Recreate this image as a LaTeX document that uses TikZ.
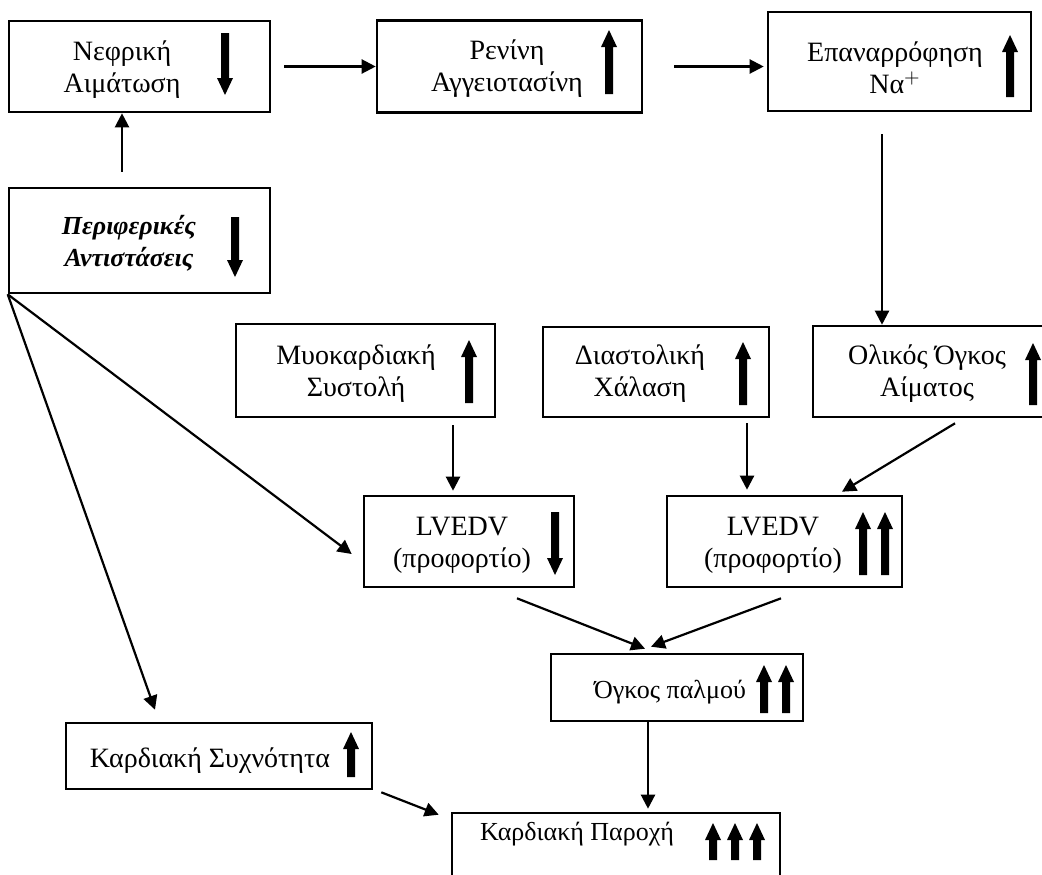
\documentclass[tikz,border=0pt]{standalone}
\usepackage{fontspec}
\setmainfont{Liberation Serif}
\usetikzlibrary{arrows.meta,calc}
\newcommand{\fatdown}[3]{\fill (#1-4,#2) -- (#1+4,#2) -- (#1+4,#3-17) -- (#1+8,#3-17) -- (#1,#3) -- (#1-8,#3-17) -- (#1-4,#3-17) -- cycle;}
\newcommand{\fatup}[3]{\fill (#1-4,#2) -- (#1+4,#2) -- (#1+4,#3+17) -- (#1+8,#3+17) -- (#1,#3) -- (#1-8,#3+17) -- (#1-4,#3+17) -- cycle;}
\begin{document}
\begin{tikzpicture}[x=0.5pt,y=-0.5pt,
  box/.style 2 args={draw, line width=1.3pt, inner sep=0pt, minimum width=#1*0.5pt, minimum height=#2*0.5pt},
  lbl/.style={align=center, inner sep=0pt, font=\fontsize{14}{16}\selectfont},
  conn/.style={line width=1.1pt, -{Triangle[length=7pt,width=7pt]}}]
\useasboundingbox (0,0) rectangle (1042,874);
% boxes
\node[box={261}{91}] (nef) at (139.5,66.5) {};
\node[box={265}{92}] (ren) at (509.5,66.5) {};
\node[box={263}{99}] (epa) at (899.5,61.5) {};
\node[box={261}{105}] (per) at (139.5,240.5) {};
\node[box={259}{93}] (myo) at (365.5,370.5) {};
\node[box={226}{90}] (dia) at (656,372) {};
\node[box={237}{91}] (oli) at (931.5,371.5) {};
\node[box={210}{91}] (lv1) at (469,541.5) {};
\node[box={235}{91}] (lv2) at (784.5,541.5) {};
\node[box={252}{67}] (ogk) at (677,687.5) {};
\node[box={306}{66}] (syx) at (219,756) {};
\node[box={328}{67}] (par) at (616,846.5) {};
% labels
\node[lbl] (tnef) at (122,70) {Νεφρική\\Αιμάτωση};
\node[lbl] (tren) at (507,69) {Ρενίνη\\Αγγειοτασίνη};
\node[lbl] (tepa) at (895,68) {Επαναρρόφηση\\Να$^{+}$};
\node[lbl, font=\fontsize{13}{16}\selectfont\bfseries\itshape] (tper) at (129,243) {Περιφερικές\\Αντιστάσεις};
\node[lbl] (tmyo) at (356,374) {Μυοκαρδιακή\\Συστολή};
\node[lbl] (tdia) at (640,374) {Διαστολική\\Χάλαση};
\node[lbl] (toli) at (927,374) {Ολικός Όγκος\\Αίματος};
\node[lbl] (tlv1) at (462,545) {LVEDV\\(προφορτίο)};
\node[lbl] (tlv2) at (773,545) {LVEDV\\(προφορτίο)};
\node[lbl, anchor=base, font=\fontsize{13}{15}\selectfont] (togk) at (670,698) {Όγκος παλμού};
\node[lbl, anchor=base] (tsyx) at (210,767) {Καρδιακή Συχνότητα};
\node[lbl, anchor=base, font=\fontsize{13}{15}\selectfont] (tpar) at (577,840) {Καρδιακή Παροχή};
% fat arrows
\fatdown{225}{33}{95}
\fatup{609}{94}{30}
\fatup{1010}{97}{35}
\fatdown{235}{217}{277}
\fatup{469}{403}{340}
\fatup{743}{405}{342}
\fatup{1033}{405}{343}
\fatdown{555}{512}{575}
\fatup{863}{575}{512}
\fatup{885}{575}{512}
\fatup{764}{713}{665}
\fatup{786}{713}{665}
\fatup{351}{777}{732}
\fatup{713}{860}{823}
\fatup{735}{860}{823}
\fatup{757}{860}{823}
% connectors
\draw[conn, shorten <=13pt*0.5] (nef.east) -- (ren.west);
\coordinate (b1) at ($(ren.east)+(31,0)$);
\draw[conn] (b1) -- ($(b1 -| epa.west)+(-3,0)$);
\coordinate (c1) at ($(epa.south)+(-17.5,22)$);
\draw[conn] (c1) -- (c1 |- oli.north);
\coordinate (d1) at ($(per.north)+(-17.5,-15)$);
\draw[conn] (d1) -- (d1 |- nef.south);
\draw[conn] (per.south west) -- ($(lv1.west)+(-11,12.5)$);
\draw[conn] (per.south west) -- ($(syx.north)+(-64,-12)$);
\coordinate (g2) at ($(lv1.north)+(-16,-4)$);
\draw[conn] ($(g2 |- myo.south)+(0,7)$) -- (g2);
\coordinate (h2) at ($(lv2.north)+(-37.5,-5)$);
\draw[conn] ($(h2 |- dia.south)+(0,5)$) -- (h2);
\draw[conn] ($(oli.south)+(23.5,5)$) -- ($(lv2.north)+(57.5,-3)$);
\draw[conn] ($(lv1.south)+(48,10)$) -- ($(ogk.north)+(-32,-4)$);
\draw[conn] ($(lv2.south)+(-3.5,10)$) -- ($(ogk.north)+(-26,-6)$);
\coordinate (l1) at ($(ogk.south)+(-29,0)$);
\draw[conn] (l1) -- ($(l1 |- par.north)+(0,-3)$);
\draw[conn] ($(syx.south east)+(8,2)$) -- ($(par.north west)+(-12,3)$);
\end{tikzpicture}
\end{document}
